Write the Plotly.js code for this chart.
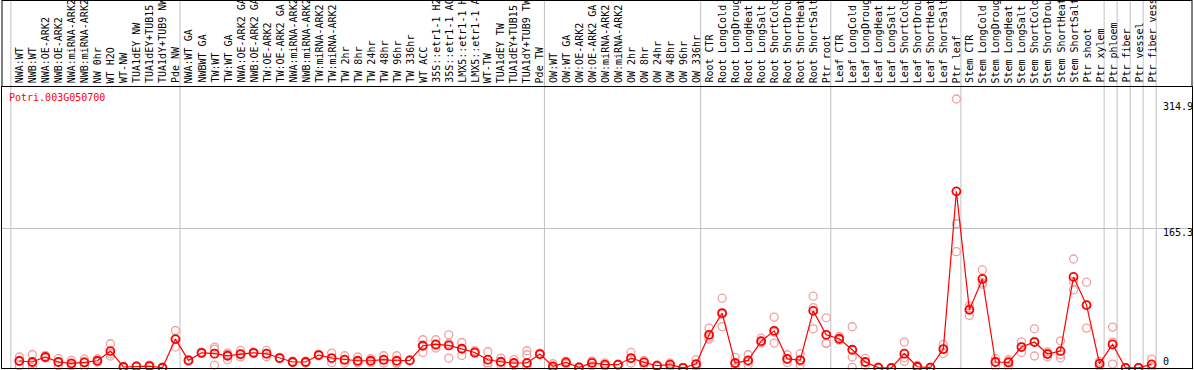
<!DOCTYPE html>
<html><head><meta charset="utf-8">
<script src="https://cdn.plot.ly/plotly-3.0.1.min.js"></script>
<style>html,body{margin:0;padding:0;background:#fff;overflow:hidden;} #chart{width:1194px;height:370px;}</style>
</head><body><div id="chart"></div>
<script>
const geneId = "Potri.003G050700";

const samples = [
  "NWA:WT","NWB:WT","NWA:OE-ARK2","NWB:OE-ARK2","NWA:miRNA-ARK2","NWB:miRNA-ARK2","NW 0hr","WT H2O","WT-NW",
  "TUA1dEY NW","TUA1dEY+TUB15 NW","TUA1dY+TUB9 NW","Pde NW",
  "NWA:WT GA","NWBWT GA","TW:WT","TW:WT GA","NWA:OE-ARK2 GA","NWB:OE-ARK2 GA","TW:OE-ARK2","TW:OE-ARK2 GA",
  "NWA:miRNA-ARK2","NWB:miRNA-ARK2","TW:miRNA-ARK2","TW:miRNA-ARK2","TW 2hr","TW 8hr","TW 24hr","TW 48hr","TW 96hr","TW 336hr",
  "WT ACC","35S::etr1-1 H2O","35S::etr1-1 ACC","LMX5::etr1-1 H2O","LMX5::etr1-1 ACC","WT-TW","TUA1dEY TW","TUA1dEY+TUB15 TW","TUA1dY+TUB9 TW","Pde TW",
  "OW:WT","OW:WT GA","OW:OE-ARK2","OW:OE-ARK2 GA","OW:miRNA-ARK2","OW:miRNA-ARK2","OW 2hr","OW 8hr","OW 24hr","OW 48hr","OW 96hr","OW 336hr",
  "Root CTR","Root LongCold","Root LongDrought","Root LongHeat","Root LongSalt","Root ShortCold","Root ShortDrought","Root ShortHeat","Root ShortSalt","Ptr root",
  "Leaf CTR","Leaf LongCold","Leaf LongDrought","Leaf LongHeat","Leaf LongSalt","Leaf ShortCold","Leaf ShortDrought","Leaf ShortHeat","Leaf ShortSalt","Ptr leaf",
  "Stem CTR","Stem LongCold","Stem LongDrought","Stem LongHeat","Stem LongSalt","Stem ShortCold","Stem ShortDrought","Stem ShortHeat","Stem ShortSalt","Ptr shoot","Ptr xylem",
  "Ptr phloem","Ptr fiber","Ptr vessel","Ptr fiber vessel"
];

const meanValues = [
  8.3,7.1,13,7.1,5.5,6.6,8.6,20,1.2,1.9,2.3,0.3,34.2,
  9,18,16.9,14.5,16.5,18,16.9,11.8,7.1,7.1,15.3,11.8,9.8,8.6,8.6,9.8,8.6,9,
  26.3,27.9,26.7,22.8,18.4,9.8,7.4,5.9,5.9,16.5,
  1.9,6.6,0.7,6,3.9,3.9,11.8,6.6,2.7,3.9,0.2,4.7,
  39.3,65,5.9,9,31.8,44,10.8,9.4,67.6,39.3,
  34.6,21.6,7.1,0.4,0,16.9,1.5,0.4,22.4,209,
  68.8,105.4,7.1,6.6,24.8,30.7,16.5,20,107.8,74.4,5.1,
  27.9,0.1,0.2,4.3
];

const rep1 = [
  13,16,15,11,9,10.6,11,28.7,2,2.5,3.5,1,44.4,
  10,18.5,24.8,17.7,20.8,19,20.8,12.5,8,8,16,17.7,14.5,13,11,14.5,14.5,9.5,
  33.4,33.4,39.3,30.2,20.5,19.2,11.8,9.8,20.4,17.5,
  5,8,1,8.5,6,4.5,18.4,9,3.3,6,0.5,9.8,
  47.2,82.6,12.5,15.7,35.4,60.2,15.7,16.9,85,59.4,
  37.3,48.8,11.3,1,0.5,30.7,3,1,27.9,318.3,
  73.6,116,11,9.8,31,46.4,13,32.2,129,101.5,7.8,
  48.4,0.3,0.5,10.6
];
const rep2 = [
  2.7,0.5,11.8,2.7,2.7,1.5,7,14.2,1,1.5,2,0,24.8,
  9,17,22.4,9.8,13,17,13.3,11,6.5,6,14.5,6.3,5.9,6,6.3,5.9,5.9,8.5,
  18.4,23.6,11.8,14.9,17.5,3.9,3.9,2.7,15.7,15.5,
  0,5,0,2.7,2,3.5,5.9,3.5,2,1.2,0,1.2,
  34.2,49,0,3.9,29.5,29.5,6.6,3.5,71.5,29.5,
  33,13,3.1,0,0,7.8,0.5,0,22,170.7,
  62.1,99.2,1.9,1.9,18.4,14.2,17.5,11.8,92.4,47.2,2,
  4.7,0,0,0.5
];
const rep3 = [
  9,5,12.5,7.5,5,7.5,8,17,0.5,1.8,1.5,0,33.5,
  8,18.5,3.5,16,15.8,18,16.7,12,7,7.3,15.4,11.5,9,7,8.6,9,5.4,9,
  27,26.7,29,23.3,17.2,6.3,6.5,5.2,1.9,16.5,
  0.5,6.6,1,6.8,3.7,3.7,11,7.3,2.8,4.5,0.1,3.1,
  36.5,63.4,5.2,7.4,30.5,42.3,10.1,7.8,46.4,29,
  33.5,0.7,6.9,0.2,0,12.2,1,0.2,17.3,137.7,
  70.7,101,7.8,8,25,31.5,19,16,102,74.5,5.5,
  30.6,0,0.1,1.8
];

const groupStarts = [0,13,41,53,63,73,84,85,86,87,88];
const yTickVals = [0, 165.3, 314.9];
const yTickText = ["0", "165.3", "314.9"];

const idx = samples.map((_, i) => i);
const repX = idx.concat(idx, idx);
const repY = rep1.concat(rep2, rep3);

const MONO = "DejaVu Sans Mono, Liberation Mono, monospace";

const traces = [
  {
    x: repX, y: repY, type: "scatter", mode: "markers", hoverinfo: "skip",
    marker: {symbol: "circle-open", size: 8, color: "#f0a0a0", line: {width: 1.3, color: "#f0a0a0"}},
    cliponaxis: false
  },
  {
    x: idx, y: meanValues, type: "scatter", mode: "lines+markers", hoverinfo: "skip",
    line: {color: "#ff0000", width: 1.2},
    marker: {symbol: "circle-open", size: 8, color: "#ff0000", line: {width: 1.8, color: "#ff0000"}},
    cliponaxis: false
  }
];

const annotations = samples.map((s, i) => ({
  x: i, xref: "x", y: 1, yref: "paper", text: s, showarrow: false,
  textangle: -90, xanchor: "center", yanchor: "bottom", yshift: 2,
  font: {family: MONO, size: 10, color: "#000"}
}));
annotations.push({
  x: 0, xref: "paper", y: 1, yref: "paper", text: geneId, showarrow: false,
  xanchor: "left", yanchor: "top", xshift: 5, yshift: -3,
  font: {family: MONO, size: 10, color: "#ff0000"}
});
yTickVals.forEach((v, k) => {
  annotations.push({
    x: 1, xref: "paper", y: v, yref: "y", text: yTickText[k], showarrow: false,
    xanchor: "left", yanchor: v === 0 ? "bottom" : "top", xshift: -31, yshift: v === 0 ? -1 : 3,
    font: {family: MONO, size: 10, color: "#000"}
  });
});

const shapes = groupStarts.map(g => ({
  type: "line", xref: "x", yref: "paper", x0: g - 0.65, x1: g - 0.65, y0: 0, y1: 1.4,
  line: {color: "#c0c0c0", width: 1}, layer: "below"
}));
shapes.push({type: "line", xref: "paper", yref: "paper", x0: 0, x1: 0, y0: 1, y1: 1.4, line: {color: "#000", width: 1}});
shapes.push({type: "line", xref: "paper", yref: "paper", x0: 1, x1: 1, y0: 1, y1: 1.4, line: {color: "#000", width: 1}});
shapes.push({type: "line", xref: "paper", yref: "paper", x0: 0, x1: 1, y0: 1.3078, y1: 1.3078, line: {color: "#000", width: 1}});

const layout = {
  width: 1194, height: 370,
  margin: {l: 2, r: 2, t: 87, b: 2, pad: 0},
  paper_bgcolor: "#ffffff", plot_bgcolor: "rgba(0,0,0,0)",
  showlegend: false,
  xaxis: {range: [-1.329, 90.104], showgrid: false, zeroline: false, showticklabels: false, ticks: "",
          showline: true, linecolor: "#000", linewidth: 1, mirror: true, fixedrange: true},
  yaxis: {range: [0, 332.5], tickvals: [165.3], showticklabels: false, ticks: "", showgrid: true,
          gridcolor: "#c0c0c0", gridwidth: 1, zeroline: false,
          showline: true, linecolor: "#000", linewidth: 1, mirror: true, fixedrange: true},
  annotations: annotations,
  shapes: shapes
};

Plotly.newPlot("chart", traces, layout, {staticPlot: true, displayModeBar: false});
</script>
</body></html>
